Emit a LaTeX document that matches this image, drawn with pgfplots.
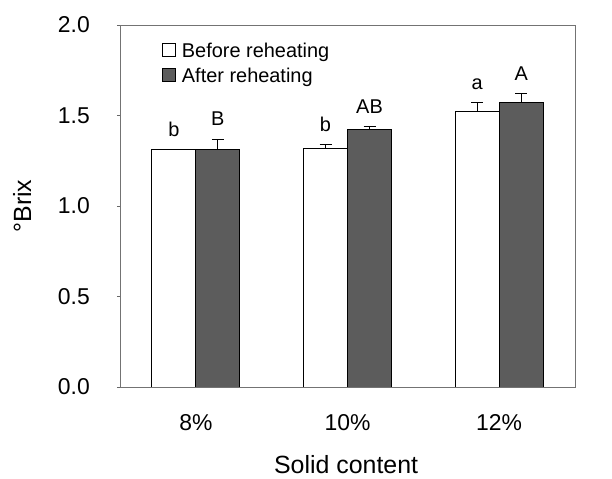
\documentclass[border=0pt]{standalone}
\usepackage{fontspec}
\setmainfont{Liberation Sans}
\usepackage{pgfplots}
\pgfplotsset{compat=1.18}
\definecolor{darkbar}{gray}{0.36}
\begin{document}
\begin{tikzpicture}
\path[use as bounding box] (0,0) rectangle (612bp,479bp);
\begin{axis}[
  at={(120bp,92bp)}, anchor=south west,
  scale only axis, width=455bp, height=362bp,
  xmin=-0.5, xmax=2.5, ymin=0, ymax=2,
  xtick={0,1,2}, xticklabels={8\%,10\%,12\%},
  ytick={0,0.5,1,1.5,2},
  /pgf/number format/assume math mode=true,
  yticklabel style={/pgf/number format/fixed, /pgf/number format/fixed zerofill, /pgf/number format/precision=1},
  tick label style={font=\fontsize{23}{26}\selectfont},
  yticklabel style={anchor=east, inner sep=0pt, xshift=-27bp},
  xticklabel style={anchor=center, inner sep=0pt, yshift=-33bp},
  xtick style={draw=none},
  ytick pos=left,
  ytick style={black!60, line width=0.5pt},
  tick align=outside, major tick length=3bp,
  axis line style={black!55, line width=0.6pt},
  ylabel={°Brix},
  ylabel style={at={(axis description cs:-0.215,0.5)}, anchor=center, font=\fontsize{25}{28}\selectfont},
  xlabel={Solid content},
  xlabel style={at={(axis description cs:0.497,-0.213)}, anchor=center, font=\fontsize{25}{28}\selectfont},
  ybar, bar width=44bp,
  legend style={at={(axis description cs:0.092,0.957)}, anchor=north west, draw=none, fill=none,
    font=\fontsize{20}{23}\selectfont, row sep=5bp, inner sep=0pt,
    /tikz/every odd column/.append style={column sep=4bp}},
  legend cell align=left,
  legend image code/.code={\draw[#1, line width=0.9pt] (0bp,-6bp) rectangle (13bp,7bp);},
  nodes near coords style={font=\fontsize{20}{23}\selectfont, anchor=south, inner sep=0pt, yshift=13bp},
]
\addplot[fill=white, draw=black, line width=1pt, bar shift=-22bp,
  error bars/.cd, y dir=plus, y explicit,
  error bar style={black, line width=1pt},
  error mark options={rotate=90, mark size=6bp, line width=1pt, black}]
  table[x=x, y=y, y error=e] {
x y e
0 1.31 0.00
1 1.32 0.02
2 1.52 0.05
};
\addlegendentry{Before reheating}
\addplot[fill=darkbar, draw=black, line width=1pt, bar shift=22bp,
  error bars/.cd, y dir=plus, y explicit,
  error bar style={black, line width=1pt},
  error mark options={rotate=90, mark size=6bp, line width=1pt, black}]
  table[x=x, y=y, y error=e] {
x y e
0 1.31 0.06
1 1.42 0.02
2 1.57 0.05
};
\addlegendentry{After reheating}
\addplot[draw=none, fill=none, bar shift=-22bp, forget plot,
  nodes near coords, point meta=explicit symbolic]
  table[x=x, y=y, meta=t] {
x y t
0 1.31 b
1 1.34 b
2 1.57 a
};
\addplot[draw=none, fill=none, bar shift=22bp, forget plot,
  nodes near coords, point meta=explicit symbolic]
  table[x=x, y=y, meta=t] {
x y t
0 1.37 B
1 1.44 AB
2 1.62 A
};
\end{axis}
\end{tikzpicture}
\end{document}
